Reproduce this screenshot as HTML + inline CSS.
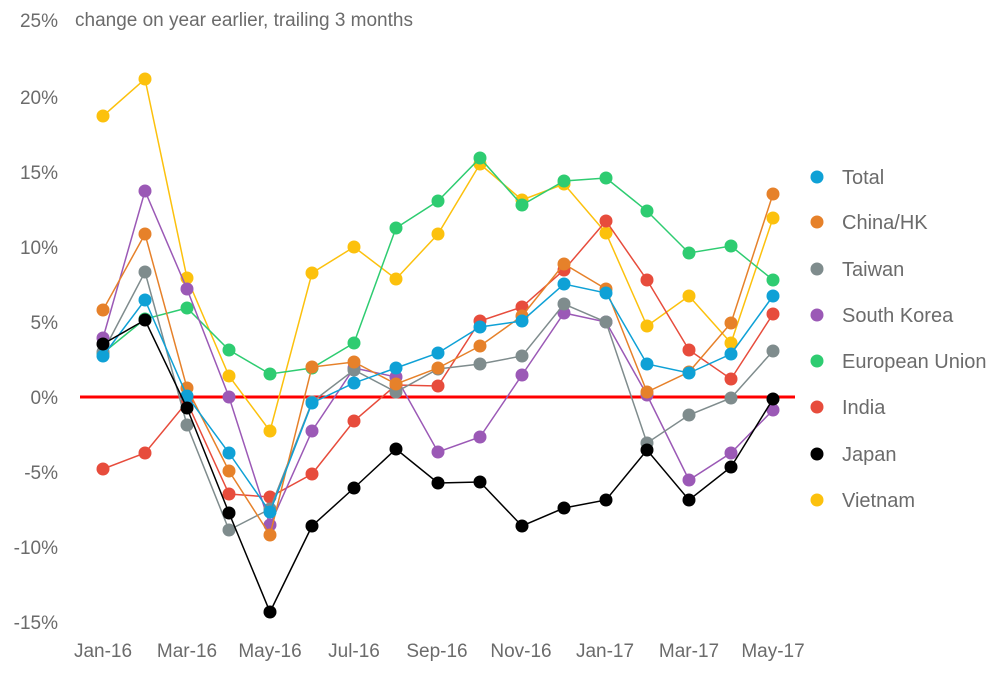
<!DOCTYPE html>
<html><head><meta charset="utf-8"><style>
html,body{margin:0;padding:0;background:#fff;}
svg text{font-family:"Liberation Sans",sans-serif;fill:#6b6b6b;}
</style></head><body>
<svg width="1005" height="673" xmlns="http://www.w3.org/2000/svg">
<defs>
<marker id="m0" markerUnits="userSpaceOnUse" markerWidth="14" markerHeight="14" refX="7" refY="7"><circle cx="7" cy="7" r="6.5" fill="#fcc10d"/></marker>
<marker id="m1" markerUnits="userSpaceOnUse" markerWidth="14" markerHeight="14" refX="7" refY="7"><circle cx="7" cy="7" r="6.5" fill="#2ecc71"/></marker>
<marker id="m2" markerUnits="userSpaceOnUse" markerWidth="14" markerHeight="14" refX="7" refY="7"><circle cx="7" cy="7" r="6.5" fill="#e74c3c"/></marker>
<marker id="m3" markerUnits="userSpaceOnUse" markerWidth="14" markerHeight="14" refX="7" refY="7"><circle cx="7" cy="7" r="6.5" fill="#9b59b6"/></marker>
<marker id="m4" markerUnits="userSpaceOnUse" markerWidth="14" markerHeight="14" refX="7" refY="7"><circle cx="7" cy="7" r="6.5" fill="#7f8c8d"/></marker>
<marker id="m5" markerUnits="userSpaceOnUse" markerWidth="14" markerHeight="14" refX="7" refY="7"><circle cx="7" cy="7" r="6.5" fill="#e6812a"/></marker>
<marker id="m6" markerUnits="userSpaceOnUse" markerWidth="14" markerHeight="14" refX="7" refY="7"><circle cx="7" cy="7" r="6.5" fill="#0fa1d6"/></marker>
<marker id="m7" markerUnits="userSpaceOnUse" markerWidth="14" markerHeight="14" refX="7" refY="7"><circle cx="7" cy="7" r="6.5" fill="#000"/></marker>
</defs>
<g font-size="19" text-anchor="end">
<text x="58" y="27">25%</text><text x="58" y="104">20%</text><text x="58" y="179">15%</text>
<text x="58" y="254">10%</text><text x="58" y="329">5%</text><text x="58" y="404">0%</text>
<text x="58" y="479">-5%</text><text x="58" y="554">-10%</text><text x="58" y="629">-15%</text>
</g>
<text x="75" y="26" font-size="19">change on year earlier, trailing 3 months</text>
<g font-size="19" text-anchor="middle">
<text x="103" y="657">Jan-16</text><text x="187" y="657">Mar-16</text><text x="270" y="657">May-16</text>
<text x="354" y="657">Jul-16</text><text x="437" y="657">Sep-16</text><text x="521" y="657">Nov-16</text>
<text x="605" y="657">Jan-17</text><text x="689" y="657">Mar-17</text><text x="773" y="657">May-17</text>
</g>
<line x1="80" y1="397" x2="795" y2="397" stroke="#ff0000" stroke-width="3"/>
<g fill="none" stroke-width="1.5">
<polyline stroke="#fcc10d" marker-start="url(#m0)" marker-mid="url(#m0)" marker-end="url(#m0)" points="103,116 145,79 187,278 229,376 270,431 312,273 354,247 396,279 438,234 480,164 522,200 564,184 606,233 647,326 689,296 731,343 773,218"/>
<polyline stroke="#2ecc71" marker-start="url(#m1)" marker-mid="url(#m1)" marker-end="url(#m1)" points="103,353 145,319 187,308 229,350 270,374 312,368 354,343 396,228 438,201 480,158 522,205 564,181 606,178 647,211 689,253 731,246 773,280"/>
<polyline stroke="#e74c3c" marker-start="url(#m2)" marker-mid="url(#m2)" marker-end="url(#m2)" points="103,469 145,453 187,402 229,494 270,497 312,474 354,421 396,385 438,386 480,321 522,307 564,270 606,221 647,280 689,350 731,379 773,314"/>
<polyline stroke="#9b59b6" marker-start="url(#m3)" marker-mid="url(#m3)" marker-end="url(#m3)" points="103,338 145,191 187,289 229,397 270,525 312,431 354,368 396,377 438,452 480,437 522,375 564,313 606,322 647,395 689,480 731,453 773,410"/>
<polyline stroke="#7f8c8d" marker-start="url(#m4)" marker-mid="url(#m4)" marker-end="url(#m4)" points="103,352 145,272 187,425 229,530 270,509 312,402 354,370 396,392 438,369 480,364 522,356 564,304 606,322 647,443 689,415 731,398 773,351"/>
<polyline stroke="#e6812a" marker-start="url(#m5)" marker-mid="url(#m5)" marker-end="url(#m5)" points="103,310 145,234 187,388 229,471 270,535 312,367 354,362 396,384 438,368 480,346 522,316 564,264 606,289 647,392 689,372 731,323 773,194"/>
<polyline stroke="#0fa1d6" marker-start="url(#m6)" marker-mid="url(#m6)" marker-end="url(#m6)" points="103,356 145,300 187,396 229,453 270,512 312,403 354,383 396,368 438,353 480,327 522,321 564,284 606,293 647,364 689,373 731,354 773,296"/>
<polyline stroke="#000" marker-start="url(#m7)" marker-mid="url(#m7)" marker-end="url(#m7)" points="103,344 145,320 187,408 229,513 270,612 312,526 354,488 396,449 438,483 480,482 522,526 564,508 606,500 647,450 689,500 731,467 773,399"/>
</g>
<g font-size="20">
<circle cx="817" cy="177" r="6.5" fill="#0fa1d6"/><text x="842" y="184">Total</text>
<circle cx="817" cy="222" r="6.5" fill="#e6812a"/><text x="842" y="229">China/HK</text>
<circle cx="817" cy="269" r="6.5" fill="#7f8c8d"/><text x="842" y="276">Taiwan</text>
<circle cx="817" cy="315" r="6.5" fill="#9b59b6"/><text x="842" y="322">South Korea</text>
<circle cx="817" cy="361" r="6.5" fill="#2ecc71"/><text x="842" y="368">European Union</text>
<circle cx="817" cy="407" r="6.5" fill="#e74c3c"/><text x="842" y="414">India</text>
<circle cx="817" cy="454" r="6.5" fill="#000"/><text x="842" y="461">Japan</text>
<circle cx="817" cy="500" r="6.5" fill="#fcc10d"/><text x="842" y="507">Vietnam</text>
</g>
</svg>
</body></html>
